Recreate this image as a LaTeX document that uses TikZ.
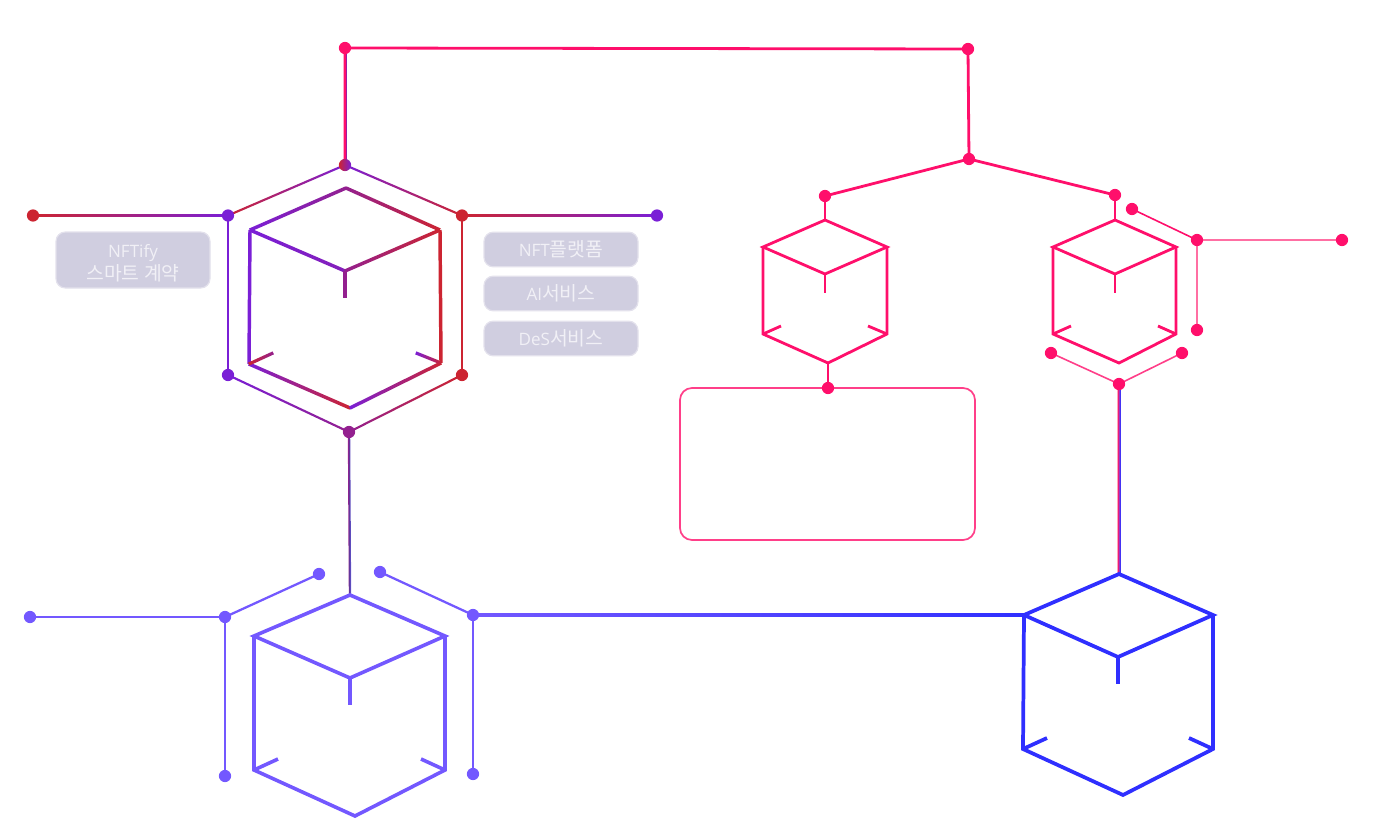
\documentclass[tikz,border=0pt]{standalone}
\usepackage{fontspec}
\newfontfamily\kr{Noto Sans CJK KR}
\newfontfamily\lat{Open Sans}
\usetikzlibrary{calc}
\pgfdeclarelayer{linelayer}
\pgfsetlayers{linelayer,main}
\definecolor{cred}{HTML}{CC2431}
\definecolor{cpur}{HTML}{7A1FD6}
\definecolor{cmau}{HTML}{93208F}
\definecolor{cpink}{HTML}{FF0F6B}
\definecolor{cpinkl}{HTML}{FF6FA3}
\definecolor{cblue}{HTML}{2F2FFF}
\definecolor{cvio}{HTML}{7358FF}
\definecolor{cbox}{HTML}{D0CEE0}
\definecolor{cboxe}{HTML}{E3E1EC}
\definecolor{ctxt}{HTML}{F1F0F6}
\definecolor{cmidA}{HTML}{8F3CC8}
\definecolor{cmidB}{HTML}{4F3FA0}
\definecolor{cendB}{HTML}{8068FF}
\definecolor{cendP}{HTML}{8020B0}
\tikzset{
  dotn/.style={circle,inner sep=0pt,minimum size=9.2pt,fill=#1,draw=none},
  lab/.style={rounded corners=7pt,fill=cbox,draw=cboxe,line width=0.9pt,minimum width=115.5pt,text=ctxt,align=center,inner sep=0pt}
}
\newcommand{\la}[1]{{\fontsize{12.8}{17}\selectfont\lat #1}}
\newcommand{\ko}[1]{{\fontsize{14.5}{17}\selectfont\kr #1}}
% gradient line: width, from, to, colour 1, colour 2
\newcommand{\gl}[5]{%
  \path let \p1=($(#3)-(#2)$),\n1={atan2(\y1,\x1)},\n2={veclen(\x1,\y1)} in
    node[rectangle,inner sep=0pt,outer sep=0pt,draw=none,minimum width=\n2+0.4pt,minimum height=#1,left color=#4,right color=#5,rotate=\n1]
    at ($(#2)!0.5!(#3)$) {};%
}
% gradient line with a middle colour: width, from, to, colour 1, middle, colour 2
\newcommand{\glm}[6]{%
  \path let \p1=($(#3)-(#2)$),\n1={atan2(\y1,\x1)},\n2={veclen(\x1,\y1)} in
    node[rectangle,inner sep=0pt,outer sep=0pt,draw=none,minimum width=\n2+0.4pt,minimum height=#1,left color=#4,right color=#6,middle color=#5,rotate=\n1]
    at ($(#2)!0.5!(#3)$) {};%
}
\newcommand{\cubepts}[2]{%
  \foreach \nm/\xx/\yy in {#2}{\coordinate (#1\nm) at (\xx,\yy);}%
}
\newcommand{\solidcube}[3]{%
  \draw[line width=#2,#3,line join=miter] (#1l) -- (#1t) -- (#1r) -- (#1c) -- cycle;
  \draw[line width=#2,#3] (#1c) -- (#1s);
  \draw[line width=#2,#3,line join=miter] (#1l) -- (#1bl) -- (#1b) -- (#1br) -- (#1r);
  \draw[line width=#2,#3] (#1bl) -- (#1tl);
  \draw[line width=#2,#3] (#1br) -- (#1tr);
}
\begin{document}
\begin{tikzpicture}[x=0.75pt,y=-0.75pt]
\useasboundingbox (0,0) rectangle (1396,821);
% ---------- coordinates of cubes
\cubepts{A}{t/346/188,l/250/230,r/440/230,c/345/271,s/345/298,bl/249/364,br/441/363,b/350/408,tl/273/353,tr/416/353}
\cubepts{B}{t/350/595,l/254/636,r/445/636,c/350/678,s/350/705,bl/254/770,br/445/770,b/355/816,tl/278/759,tr/421/759}
\cubepts{C}{t/825/220,l/763/247,r/887/247,c/825/274,s/825/293,bl/763/334,br/887/334,b/828/363,tl/781/326,tr/868/326}
\cubepts{D}{t/1115/220,l/1053/247,r/1176/247,c/1115/274,s/1115/293,bl/1053/334,br/1176/334,b/1119/363,tl/1071/326,tr/1158/326}
\cubepts{E}{t/1119/574,l/1024/615,r/1213/615,c/1118/657,s/1118/684,bl/1023/749,br/1213/749,b/1123/795,tl/1047/738,tr/1189/738}
% ---------- dots (named)
\node[dotn=cpink] (p1) at (345,48) {};
\node[dotn=cpink] (p2) at (968,49) {};
\node[dotn=cpink] (p3) at (969,159) {};
\node[dotn=cpink] (p4) at (825,196) {};
\node[dotn=cpink] (p5) at (1115,195) {};
\node[dotn=cpink] (p6) at (828,388) {};
\node[dotn=cpink] (p7) at (1132,209) {};
\node[dotn=cpink] (p8) at (1197,240) {};
\node[dotn=cpink] (p9) at (1342,240) {};
\node[dotn=cpink] (p10) at (1197,330) {};
\node[dotn=cpink] (p11) at (1051,353) {};
\node[dotn=cpink] (p12) at (1182,353) {};
\node[dotn=cpink] (p13) at (1119,384) {};
\node[circle,inner sep=0pt,minimum size=9.2pt,left color=cred,right color=cpur] (h0) at (345,165) {};
\node[dotn=cmau] (h6) at (349,432) {};
\node[dotn=cred] (h1) at (33,215.500) {};
\node[dotn=cpur] (h2) at (228,215.500) {};
\node[dotn=cred] (h3) at (462,215.500) {};
\node[dotn=cpur] (h4) at (657,215.500) {};
\node[dotn=cpur] (h5) at (228,375) {};
\node[dotn=cred] (h7) at (462,375) {};
\node[dotn=cvio] (v1) at (30,617) {};
\node[dotn=cvio] (v2) at (225,617) {};
\node[dotn=cvio] (v3) at (319,574) {};
\node[dotn=cvio] (v4) at (225,776) {};
\node[dotn=cvio] (v5) at (380,572) {};
\node[dotn=cvio] (v6) at (473,615) {};
\node[dotn=cvio] (v7) at (473,774) {};
\begin{pgfonlayer}{linelayer}
% ---------- pink connectors
\draw[line width=2.1pt,cpink] (p1.center) -- (p2.center) -- (p3.center);
\draw[line width=2.1pt,cpink] (p4.center) -- (p3.center) -- (p5.center);
\glm{1.9pt}{p1.center}{h0.center}{cpink}{cpink}{cendP}
\draw[line width=2.1pt,cpink] (p4.center) -- (Ct);
\draw[line width=2.1pt,cpink] (p5.center) -- (Dt);
\draw[line width=2.1pt,cpink] (Cb) -- (p6.center);
\draw[line width=1.2pt,cpink] (p7.center) -- (p8.center);
\draw[line width=2.2pt,cpinkl] (p8.center) -- (p9.center);
\draw[line width=2.2pt,cpinkl] (p8.center) -- (p10.center);
\draw[line width=1.2pt,cpink!80] (p11.center) -- (p13.center) -- (p12.center);
\glm{1.9pt}{p13.center}{Et}{cpink}{cmidA}{cblue}
% rounded panel
\draw[line width=1.3pt,cpink!80,rounded corners=9pt] (680,388) rectangle (975,540);
% ---------- hexagon around the gradient cube
\gl{2pt}{h1.center}{h2.center}{cred}{cpur}
\gl{2pt}{h3.center}{h4.center}{cred}{cpur}
\gl{1.6pt}{h0.center}{h2.center}{cred}{cpur}
\gl{1.6pt}{h0.center}{h3.center}{cpur}{cred}
\gl{1.6pt}{h5.center}{h6.center}{cpur}{cmau}
\gl{1.6pt}{h6.center}{h7.center}{cmau}{cred}
\draw[line width=2pt,cpur] (h2.center) -- (h5.center);
\draw[line width=2pt,cred] (h3.center) -- (h7.center);
\glm{1.8pt}{h6.center}{Bt}{cmau}{cmidB}{cendB}
% ---------- gradient cube
\gl{2.6pt}{Al}{At}{cpur}{cmau}
\gl{2.6pt}{At}{Ar}{cmau}{cred}
\gl{2.6pt}{Al}{Ac}{cpur}{cpur!60!cmau}
\gl{2.6pt}{Ac}{Ar}{cmau}{cred}
\draw[line width=2.6pt,cmau] (Ac) -- (As);
\draw[line width=2.6pt,cpur] (Al) -- (Abl);
\draw[line width=2.6pt,cred] (Ar) -- (Abr);
\gl{2.6pt}{Abl}{Ab}{cpur}{cred}
\gl{2.6pt}{Ab}{Abr}{cpur}{cred}
\gl{2.4pt}{Abl}{Atl}{cred}{cmau}
\gl{2.4pt}{Atr}{Abr}{cpur}{cred}
% ---------- violet group
\draw[line width=2.1pt,cvio] (v1.center) -- (v2.center);
\draw[line width=2pt,cvio] (v2.center) -- (v4.center);
\draw[line width=1.7pt,cvio] (v2.center) -- (v3.center);
\draw[line width=1.7pt,cvio] (v5.center) -- (v6.center);
\draw[line width=2pt,cvio] (v6.center) -- (v7.center);
\gl{1.9pt}{v6.center}{El}{cvio}{cblue}
\solidcube{B}{2.7pt}{cvio}
% ---------- pink cubes and blue cube
\solidcube{C}{2.1pt}{cpink}
\solidcube{D}{2.1pt}{cpink}
\solidcube{E}{2.8pt}{cblue}
\end{pgfonlayer}
% ---------- labels
\node[lab,minimum height=42pt] (l1) at (133,260) {\rule{0pt}{15pt}\la{NFTify}\\[1pt]\ko{스마트 계약}};
\node[lab,minimum height=26pt] (l2) at (561,249.500) {\la{NFT}\ko{플랫폼}};
\node[lab,minimum height=26pt] (l3) at (561,293.500) {\la{AI}\ko{서비스}};
\node[lab,minimum height=26pt] (l4) at (561,338.500) {\la{DeS}\ko{서비스}};
\end{tikzpicture}
\end{document}
